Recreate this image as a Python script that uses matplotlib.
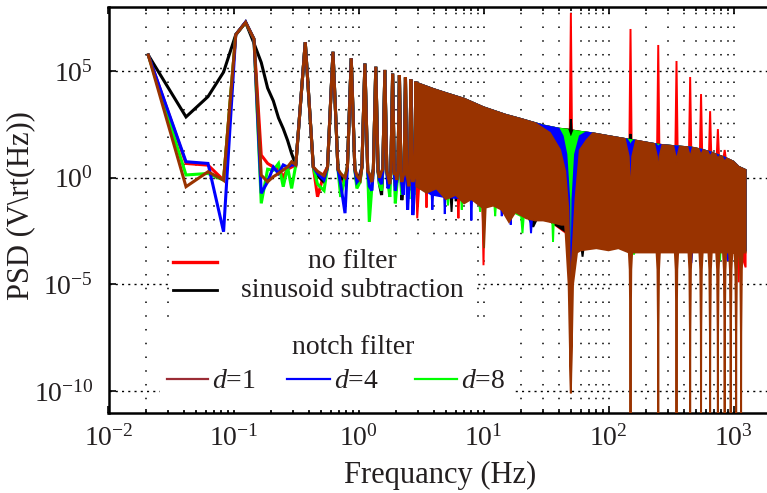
import numpy as np
import matplotlib
matplotlib.use("Agg")
import matplotlib.pyplot as plt
from matplotlib.ticker import LogLocator, NullLocator, NullFormatter
from matplotlib.patches import Rectangle
from matplotlib.lines import Line2D

plt.rcParams["font.family"] = ["Liberation Serif", "DejaVu Serif"]
plt.rcParams["mathtext.fontset"] = "custom"
plt.rcParams["mathtext.rm"] = "Liberation Serif"
plt.rcParams["mathtext.it"] = "Liberation Serif:italic"
plt.rcParams["mathtext.bf"] = "Liberation Serif:bold"

TXT = "#231f20"
C_RED, C_BLACK, C_D1, C_D4, C_D8 = "#ff0000", "#000000", "#993300", "#0000ff", "#00ff00"

# ============ data: frequency (Hz) and log10(PSD) ============
# lowest frequency bins (spacing 1/48 Hz)
lf_f = [0.0208, 0.0417, 0.0625, 0.0833, 0.1042, 0.125, 0.1458, 0.1667, 0.1875, 0.2083,
        0.2292, 0.25, 0.2708, 0.2917]
lf_red = [5.75, 0.67, 0.59, -0.11, 6.7, 7.28, 6.5, 1.06, 0.67, 0.5, 0.4, 0.05, 0.4, 0.5]
lf_black = [5.75, 2.85, 3.8, 4.95, 6.7, 7.28, 6.3, 5.4, 4.2, 3.6, 2.8, 2.3, 1.75, 1.13]
lf_d1 = [5.75, -0.42, 0.28, -0.11, 6.7, 7.28, 6.5, 0.12, -0.19, 0.05, 0.2, 0.36, 0.51, 0.75]
lf_d4 = [5.75, 0.75, 0.67, -2.53, 6.7, 7.3, 6.5, -0.73, -0.19, 0.5, 0.2, 0.6, 0.5, 0.6]
lf_d8 = [5.75, 0.13, 0.2, -0.11, 6.7, 7.28, 6.5, -1.2, 0.4, 0.35, 0.67, -0.42, 0.5, -0.5]

# square-wave harmonic peaks (shared by all curves)
pk_f = [0.375, 0.625, 0.875, 1.125, 1.375, 1.625, 1.875, 2.125, 2.375, 2.625, 2.875]
pk_e = [6.35, 5.9, 5.6, 5.35, 5.2, 5.05, 4.88, 4.8, 4.7, 4.6, 4.5]
base_f = [0.315, 0.435, 0.565, 0.685, 0.815, 0.935, 1.065, 1.185, 1.315, 1.435, 1.565,
          1.685, 1.815, 1.935, 2.065, 2.185, 2.315, 2.435, 2.565, 2.685, 2.815, 2.935]
base_e = [0.6, 0.5, 0.5, 0.4, 0.5, 0.4, 0.5, 0.3, 0.4, 0.3, 0.4,
          0.3, 0.3, 0.2, 0.3, 0.2, 0.2, 0.1, 0.2, 0.1, 0.1, 0.0]
# floor between the peaks, per curve
mid_f = [0.47, 0.53, 0.72, 0.78, 0.97, 1.03, 1.22, 1.28, 1.47, 1.53,
         1.72, 1.78, 1.97, 2.03, 2.22, 2.28, 2.47, 2.53, 2.72, 2.78]
nz_red = [-0.89, 0.2, 0.0, -0.3, 0.1, -0.1, -0.2, 0.1, 0.0, -0.5,
          -0.1, 0.0, -0.3, -0.2, -0.1, -0.6, -0.3, -0.1, -1.0, -0.4]
nz_black = [0.1, -0.2, 0.0, -0.1, -0.3, 0.2, -0.1, 0.0, -0.3, -0.81,
            0.0, -0.2, -0.4, -0.1, -1.05, -0.3, -0.2, -0.6, -0.5, -0.3]
nz_d1 = [0.3, 0.1, 0.2, 0.0, 0.1, -0.1, 0.2, -0.2, 0.0, 0.3,
         0.1, -0.3, 0.2, -0.1, -0.2, 0.1, 0.0, -0.4, -0.2, 0.0]
nz_d4 = [0.2, -0.1, -0.3, -1.66, -0.2, 0.0, -0.4, -0.6, -0.1, -0.3,
         -0.5, -0.2, -0.6, 0.0, -0.3, -0.8, -1.5, -0.4, -1.75, -0.9]
nz_d8 = [-0.3, -0.6, -0.9, 0.0, -0.5, -0.2, -2.07, -0.4, -0.3, -0.6,
         -0.2, -0.9, -1.2, -0.3, -0.8, -0.5, -0.4, -1.0, -0.6, -0.8]

# dense part (> 2.9 Hz): upper envelope shared by all curves
env_f = [2.9, 4, 5.1, 7, 10, 15, 20, 30, 40, 60, 75, 100, 150, 200, 250, 350, 450, 550,
         650, 750, 850, 1000, 1100, 1250]
env_e = [4.45, 4.15, 3.95, 3.7, 3.3, 2.95, 2.75, 2.45, 2.3, 2.15, 2.08, 1.95, 1.77, 1.65,
         1.55, 1.47, 1.42, 1.32, 1.2, 1.06, 0.94, 0.75, 0.51, 0.36]

# features on the upper envelope (50 Hz and odd harmonics)
up_red = [([49, 50, 51], [2.25, 7.72, 2.22]),
          ([147, 150, 153], [1.78, 6.97, 1.77]),
          ([245, 250, 255], [1.56, 6.22, 1.55]),
          ([343, 350, 357], [1.47, 5.47, 1.46]),
          ([441, 450, 459], [1.42, 4.72, 1.41]),
          ([539, 550, 561], [1.33, 3.92, 1.3]),
          ([637, 650, 663], [1.2, 3.12, 1.18]),
          ([735, 750, 765], [1.07, 2.28, 1.04]),
          ([833, 850, 867], [0.96, 1.3, 0.92])]
up_black = [([49.4, 50, 50.6], [2.25, 2.75, 2.22]),
            ([148, 150, 152], [1.78, 2.05, 1.77])]
up_d8 = [([47, 49.3, 50, 50.7, 53], [2.25, 1.9, -4.6, 1.9, 2.2])]
up_d4 = [([40, 43, 46, 48.5, 50, 51.5, 54, 59, 66], [2.3, 1.95, 1.1, -1.0, -6.8, -1.0, 1.1, 1.95, 2.12]),
         ([140, 146, 150, 154, 160], [1.8, 1.65, 1.45, 1.65, 1.75]),
         ([240, 247, 250, 253, 260], [1.57, 1.47, 1.35, 1.47, 1.54])]
up_d1 = [([26, 34, 41, 45, 47.6, 49, 50, 51, 54.4, 59, 67, 75],
          [2.55, 2.1, 1.3, 0.3, -1.4, -4.0, -10.1, -4.0, -1.05, 1.3, 1.77, 2.08]),
         ([135, 145, 150, 155, 166], [1.82, 1.0, -1.05, 1.0, 1.74]),
         ([232, 244, 250, 256, 270], [1.58, 1.0, 0.05, 1.0, 1.53]),
         ([330, 344, 350, 356, 372], [1.48, 1.0, 0.36, 1.0, 1.46]),
         ([428, 443, 450, 457, 473], [1.43, 1.1, 0.6, 1.1, 1.41]),
         ([525, 541, 550, 559, 575], [1.35, 1.15, 0.8, 1.15, 1.3]),
         ([622, 640, 650, 660, 678], [1.22, 1.05, 0.8, 1.05, 1.17]),
         ([720, 740, 750, 760, 780], [1.09, 0.95, 0.85, 0.95, 1.02]),
         ([815, 838, 850, 862, 885], [0.97, 0.8, 0.6, 0.8, 0.9])]

# lower edge of the dense part, per curve
lo_red_f = [2.9, 2.95, 3.05, 3.45, 3.5, 3.55, 6.2, 6.3, 6.4, 9.8, 10.0, 10.2, 30, 60, 100,
            150, 300, 600, 1000, 1080, 1100, 1120, 1250]
lo_red_e = [-0.3, -1.9, -0.5, -0.5, -1.4, -0.5, -0.8, -1.9, -0.8, -1.2, -4.1, -1.2, -1.8,
            -3.1, -3.2, -3.3, -3.3, -3.3, -3.3, -3.3, -4.9, -3.3, -4.2]
lo_black_f = [2.9, 5.45, 5.55, 5.65, 5.9, 6.0, 6.1, 22, 25, 28, 60, 62, 64, 100, 1250]
lo_black_e = [-0.3, -0.8, -1.6, -0.8, -0.7, -1.1, -0.7, -1.7, -2.3, -1.7, -3.0, -3.7, -3.0,
              -3.2, -3.4]
lo_d8_f = [2.9, 5.1, 5.2, 5.3, 6.6, 6.7, 6.8, 9.2, 9.4, 9.6, 12.2, 12.4, 12.6, 20.0, 20.5,
           21.0, 35.5, 36, 36.5, 46, 48.5, 50, 51.5, 55, 155, 160, 165, 770, 780, 790, 1250]
lo_d8_e = [-0.3, -0.8, -1.3, -0.8, -0.8, -1.5, -0.8, -1.1, -1.6, -1.1, -1.2, -1.8, -1.2,
           -1.8, -2.6, -1.8, -2.0, -3.0, -2.0, -2.2, -3.3, -4.6, -3.3, -3.1, -3.2, -3.6,
           -3.2, -3.3, -3.9, -3.3, -3.4]
lo_d4_f = [2.9, 3.85, 3.9, 3.95, 4.85, 4.9, 4.95, 7.9, 8.0, 8.1, 13.8, 14, 14.2, 16.3,
           16.5, 16.7, 23.5, 24, 24.5, 45, 48, 50, 52, 56, 100, 300, 450, 460, 470, 880,
           900, 920, 1250]
lo_d4_e = [-0.3, -0.8, -1.5, -0.8, -0.9, -1.7, -0.9, -1.0, -2.0, -1.0, -1.3, -1.8, -1.3,
           -1.5, -2.2, -1.5, -1.8, -2.6, -1.8, -2.1, -3.5, -6.8, -3.5, -3.2, -3.2, -3.3,
           -3.3, -4.0, -3.3, -3.3, -3.9, -3.3, -3.4]
lo_d1_f = [2.9, 3.5, 4.2, 5, 6, 7, 8, 9.8, 10.1, 10.4, 12, 14, 16, 18, 22, 26, 30, 36, 42,
           60, 80, 100, 120, 200, 300, 400, 600, 800, 1000, 1250]
lo_d1_e = [-0.4, -0.7, -0.5, -1.0, -0.8, -1.2, -1.0, -1.4, -3.3, -1.4, -1.3, -1.5, -2.07,
           -1.6, -1.9, -2.0, -2.0, -2.1, -2.2, -3.4, -3.3, -3.4, -3.3, -3.5, -3.5, -3.5,
           -3.5, -3.5, -3.5, -3.5]
# d=1 drops to the floor at 50 Hz and at the odd harmonics of 50 Hz
d1_dip50_f = [45, 48, 50, 52, 56]
d1_dip50_e = [-2.2, -5.0, -10.1, -5.0, -3.5]
harm_f = [150, 250, 350, 450, 550, 650, 750, 850, 950, 1050, 1150]
spike_rel = [-0.03, -0.014, -0.003, 0.0, 0.003, 0.014, 0.03]   # relative width of a dip
spike_e = [-3.5, -4.3, -7.3, -12.0, -7.3, -4.3, -3.5]           # depth profile of a dip
lo_d1_feats = [(d1_dip50_f, d1_dip50_e)] + [
    ([h * (1 + r) for r in spike_rel], spike_e) for h in harm_f]


# ============ helpers ============
def merge(bf, be, feats):
    pts = list(zip(bf, be))
    for ff, ee in feats:
        lo, hi = min(ff), max(ff)
        pts = [p for p in pts if p[0] < lo or p[0] > hi] + list(zip(ff, ee))
    pts.sort()
    return np.array([p[0] for p in pts]), np.array([p[1] for p in pts])


def low_curve(lf_e, nz_e):
    f = np.concatenate([lf_f, base_f, pk_f, mid_f])
    e = np.concatenate([lf_e, base_e, pk_e, nz_e])
    o = np.argsort(f)
    return f[o], 10.0 ** e[o]


def draw_series(ax, lf_e, nz_e, up_feats, lo_f, lo_e, lo_feats, color, z, label):
    f, p = low_curve(lf_e, nz_e)
    ax.plot(f, p, color=color, lw=2.2, zorder=z, solid_joinstyle="miter", label=label)
    uf, ue = merge(env_f, env_e, up_feats)
    bf, be = merge(lo_f, lo_e, lo_feats)
    x = np.concatenate([uf, bf[::-1]])
    y = np.concatenate([10.0 ** ue, 10.0 ** be[::-1]])
    ax.fill(x, y, facecolor=color, edgecolor=color, lw=1.4, zorder=z)


# ============ figure ============
W, H = 767, 493
fig = plt.figure(figsize=(W / 100, H / 100), dpi=100)
AX_L, AX_R, AX_T, AX_B = 108.5, 775.0, 7.0, 412.5
ax = fig.add_axes([AX_L / W, (H - AX_B) / H, (AX_R - AX_L) / W, (AX_B - AX_T) / H])
ax.set_xscale("log")
ax.set_yscale("log")

draw_series(ax, lf_red, nz_red, up_red, lo_red_f, lo_red_e, [], C_RED, 2, "no filter")
draw_series(ax, lf_black, nz_black, up_black, lo_black_f, lo_black_e, [], C_BLACK, 3,
            "sinusoid subtraction")
draw_series(ax, lf_d8, nz_d8, up_d8, lo_d8_f, lo_d8_e, [], C_D8, 4, "d=8")
draw_series(ax, lf_d4, nz_d4, up_d4, lo_d4_f, lo_d4_e, [], C_D4, 5, "d=4")
draw_series(ax, lf_d1, nz_d1, up_d1, lo_d1_f, lo_d1_e, lo_d1_feats, C_D1, 6, "d=1")

ax.set_xlim(1e-2, 10 ** 3.332)
ax.set_ylim(1e-11, 1e8)
ax.xaxis.set_major_locator(LogLocator(base=10, numticks=20))
ax.xaxis.set_minor_locator(LogLocator(base=10, subs=np.arange(2, 10), numticks=200))
ax.xaxis.set_minor_formatter(NullFormatter())
ax.set_yticks([1e-10, 1e-5, 1e0, 1e5])
ax.yaxis.set_minor_locator(NullLocator())

ax.set_axisbelow(True)
ax.grid(True, which="both", axis="x", color="k", lw=1.1, ls=(0, (1, 8)))
ax.grid(True, which="major", axis="y", color="k", lw=1.0, ls=(0, (1.5, 3)))

ax.tick_params(which="both", direction="in", top=True, right=False, width=1.2, colors="k",
               labelcolor=TXT)
ax.tick_params(which="major", length=5, labelsize=20)
ax.tick_params(which="minor", length=3)
ax.tick_params(axis="y", pad=11)
ax.tick_params(axis="x", pad=9)
for s in ["left", "bottom", "top"]:
    ax.spines[s].set_linewidth(1.8)
ax.spines["right"].set_visible(False)


def axc(px, py):
    return (px - AX_L) / (AX_R - AX_L), (AX_B - py) / (AX_B - AX_T)


ax.set_xlabel("Frequancy (Hz)", fontsize=22, color=TXT)
ax.xaxis.set_label_coords(*axc(440, 461))
ax.set_ylabel("PSD (V\\rt(Hz))", fontsize=22, color=TXT)
ax.yaxis.set_label_coords(*axc(35, 206))

# ---- legends (white boxes, no frame) ----
def box(x0, y0, x1, y1):
    a0 = axc(x0, y1)
    a1 = axc(x1, y0)
    ax.add_patch(Rectangle(a0, a1[0] - a0[0], a1[1] - a0[1], transform=ax.transAxes,
                           facecolor="white", edgecolor="none", zorder=10))


def sample(x0, x1, y, color, lw):
    p0, p1 = axc(x0, y), axc(x1, y)
    ax.add_line(Line2D([p0[0], p1[0]], [p0[1], p1[1]], transform=ax.transAxes,
                       color=color, lw=lw, zorder=11))


def label(x, y, s, ha):
    ax.text(*axc(x, y), s, transform=ax.transAxes, ha=ha, va="baseline", fontsize=20,
            color=TXT, zorder=12)


box(170, 240, 476, 325)
sample(173, 217, 261.5, C_RED, 2.4)
label(352, 268, "no filter", "center")
sample(173, 217, 289.5, C_BLACK, 2.0)
label(352, 297, "sinusoid subtraction", "center")

box(160, 325, 515, 410)
label(353, 354, "notch filter", "center")
sample(167, 208, 379, "#9b2c35", 1.6)
label(212, 388, "$d$=1", "left")
sample(287, 330, 379, C_D4, 1.6)
label(334, 388, "$d$=4", "left")
sample(415, 457, 379, C_D8, 1.6)
label(461, 388, "$d$=8", "left")

fig.savefig("out.png", dpi=100)
